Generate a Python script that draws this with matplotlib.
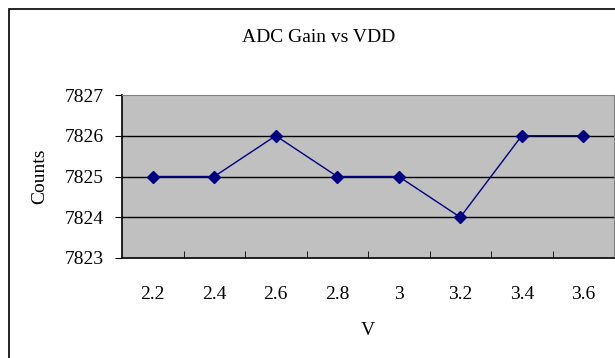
import matplotlib.pyplot as plt
from matplotlib.patches import Rectangle

# supply voltage vs measured ADC gain
vdd = ['2.2', '2.4', '2.6', '2.8', '3', '3.2', '3.4', '3.6']
counts = [7825, 7825, 7826, 7825, 7825, 7824, 7826, 7826]
yticks = [7823, 7824, 7825, 7826, 7827]

plt.rcParams['font.family'] = ['Liberation Serif', 'DejaVu Serif']

W, H = 615, 358
fig = plt.figure(figsize=(W / 100, H / 100), dpi=100)
fig.patch.set_facecolor('white')

# outer chart frame
fig.add_artist(Rectangle((9 / W, -0.01), 1.0, 1 - 9 / H + 0.01, transform=fig.transFigure,
                         fill=False, edgecolor='black', linewidth=1.2))

ax = fig.add_axes([122 / W, 1 - 258 / H, (614 - 122) / W, (258 - 95) / H])
ax.set_facecolor('#c0c0c0')

x = range(len(vdd))
ax.plot(x, counts, color='#000080', linewidth=1, marker='D', markersize=6,
        markerfacecolor='#000080', markeredgecolor='#000080')

ax.set_xlim(-0.5, len(vdd) - 0.5)
ax.set_ylim(yticks[0], yticks[-1])
ax.set_yticks(yticks)
ax.set_xticks(x)
ax.set_xticklabels(vdd)
ax.set_xticks([i + 0.5 for i in range(len(vdd) - 1)], minor=True)

for y in yticks[1:-1]:
    ax.axhline(y, color='black', linewidth=1, zorder=1)

for side in ['top', 'right']:
    ax.spines[side].set_color('#808080')
for side in ['left', 'bottom']:
    ax.spines[side].set_color('black')
    ax.spines[side].set_linewidth(1.2)

ax.tick_params(axis='y', direction='out', length=5, labelsize=14, pad=8)
ax.tick_params(axis='x', which='major', length=0, labelsize=14, pad=20)
ax.tick_params(axis='x', which='minor', direction='in', length=5)

ax.set_ylabel('Counts', fontsize=14, labelpad=12)
ax.set_xlabel('V', fontsize=14, labelpad=14)
fig.text(319 / W, 1 - 37 / H, 'ADC Gain vs VDD', ha='center', va='center', fontsize=14)

fig.savefig('out.png', dpi=100)
